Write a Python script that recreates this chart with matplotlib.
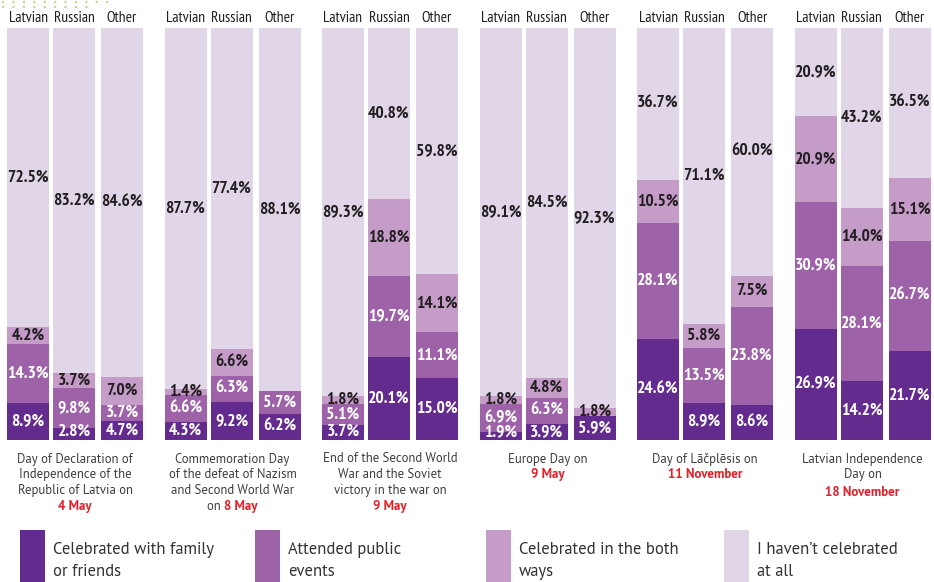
import matplotlib
matplotlib.use("Agg")
import matplotlib.pyplot as plt
from matplotlib.patches import Rectangle
from matplotlib.lines import Line2D

NARROW = ["PT Sans Narrow", "Roboto Condensed", "Roboto", "DejaVu Sans"]
SANS = ["PT Sans", "Source Sans 3", "Lato", "DejaVu Sans"]
plt.rcParams["font.family"] = SANS

# data (percent)
groups = ["Latvian", "Russian", "Other"]
family = [[8.9, 2.8, 4.7], [4.3, 9.2, 6.2], [3.7, 20.1, 15.0],
          [1.9, 3.9, 5.9], [24.6, 8.9, 8.6], [26.9, 14.2, 21.7]]
public = [[14.3, 9.8, 3.7], [6.6, 6.3, 5.7], [5.1, 19.7, 11.1],
          [6.9, 6.3, 0.0], [28.1, 13.5, 23.8], [30.9, 28.1, 26.7]]
both = [[4.2, 3.7, 7.0], [1.4, 6.6, 0.0], [1.8, 18.8, 14.1],
        [1.8, 4.8, 1.8], [10.5, 5.8, 7.5], [20.9, 14.0, 15.1]]
none = [[72.5, 83.2, 84.6], [87.7, 77.4, 88.1], [89.3, 40.8, 59.8],
        [89.1, 84.5, 92.3], [36.7, 71.1, 60.0], [20.9, 43.2, 36.5]]
days = [
    (["Day of Declaration of", "Independence of the", "Republic of Latvia on"], "", "4 May"),
    (["Commemoration Day", "of the defeat of Nazism", "and Second World War"], "on ", "8 May"),
    (["End of the Second World", "War and the Soviet", "victory in the war on"], "", "9 May"),
    (["Europe Day on"], "", "9 May"),
    (["Day of Lāčplēsis on"], "", "11 November"),
    (["Latvian Independence", "Day on"], "", "18 November"),
]
legend_labels = [["Celebrated with family", "or friends"], ["Attended public", "events"],
                 ["Celebrated in the both", "ways"], ["I haven\u2019t celebrated", "at all"]]
colors = ["#632b8e", "#9d62a7", "#c59cc8", "#e1d5e8"]
DARK = "#231f20"
GREY = "#3d3d3d"
RED = "#e3202a"

W, H = 934, 582
fig = plt.figure(figsize=(W / 100, H / 100), dpi=100)
top_px, bot_px = 28, 440
ax = fig.add_axes([0, 1 - bot_px / H, 1, (bot_px - top_px) / H])
ax.set_xlim(0, W)
ax.set_ylim(0, 100)
ax.axis("off")

step = 157.5
offsets = [0, 46, 94]
bw = 42
VAL = dict(fontsize=12.6, fontweight="bold", family=NARROW)
for g in range(len(family)):
    for i in range(3):
        x = 7 + g * step + offsets[i]
        segs = [family[g][i], public[g][i], both[g][i]]
        # light full column = "haven't celebrated"
        ax.bar(x, 100, bw, bottom=0, align="edge", color=colors[3], linewidth=0)
        b = 0
        for k, v in enumerate(segs):
            if v > 0:
                ax.bar(x, v, bw, bottom=b, align="edge", color=colors[k], linewidth=0)
                ax.text(x + bw / 2, max(b + v / 2, 2.0), f"{v:.1f}%", ha="center", va="center",
                        color="white" if k < 2 else DARK, **VAL)
            b += v
        ax.text(x + bw / 2, (b + 100) / 2, f"{none[g][i]:.1f}%", ha="center", va="center",
                color=DARK, **VAL)
        fig.text((x + bw / 2) / W, 1 - 18 / H, groups[i], ha="center", va="center",
                 color=DARK, fontsize=11.2, family=NARROW)

# category labels under groups
fig.canvas.draw()
renderer = fig.canvas.get_renderer()
CAT = dict(fontsize=9.2, color=GREY)
DATE = dict(fontsize=9.4, color=RED, fontweight="bold")
for g, (lines, pre, date) in enumerate(days):
    cx = 7 + g * step + (offsets[2] + bw) / 2
    y = 459
    for ln in lines:
        fig.text(cx / W, 1 - y / H, ln, ha="center", va="center", **CAT)
        y += 15.7
    if g == 5:
        y += 2
    if pre:
        t1 = fig.text(0, 0, pre, **CAT)
        t2 = fig.text(0, 0, date, **DATE)
        w1 = t1.get_window_extent(renderer).width
        w2 = t2.get_window_extent(renderer).width
        t1.remove()
        t2.remove()
        x0 = cx - (w1 + w2) / 2
        fig.text(x0 / W, 1 - y / H, pre, ha="left", va="center", **CAT)
        fig.text((x0 + w1) / W, 1 - y / H, date, ha="left", va="center", **DATE)
    else:
        fig.text(cx / W, 1 - y / H, date, ha="center", va="center", **DATE)

# legend
leg_x = [20, 255, 486, 724]
for lx, lab, c in zip(leg_x, legend_labels, colors):
    fig.add_artist(Rectangle((lx / W, 0), 25 / W, 52 / H, transform=fig.transFigure,
                             color=c, linewidth=0))
    for j, ln in enumerate(lab):
        fig.text((lx + 33) / W, 1 - (550 + 22 * j) / H, ln, ha="left", va="center",
                 color="#333333", fontsize=12.0)

# green dotted decoration
for yy, xe in [(2, 108), (7, 88)]:
    fig.add_artist(Line2D([2 / W, xe / W], [1 - yy / H, 1 - yy / H], transform=fig.transFigure,
                          color="#b8dc8c", linestyle=(0, (1, 4)), linewidth=1.5))

fig.savefig("out.png", dpi=100)
